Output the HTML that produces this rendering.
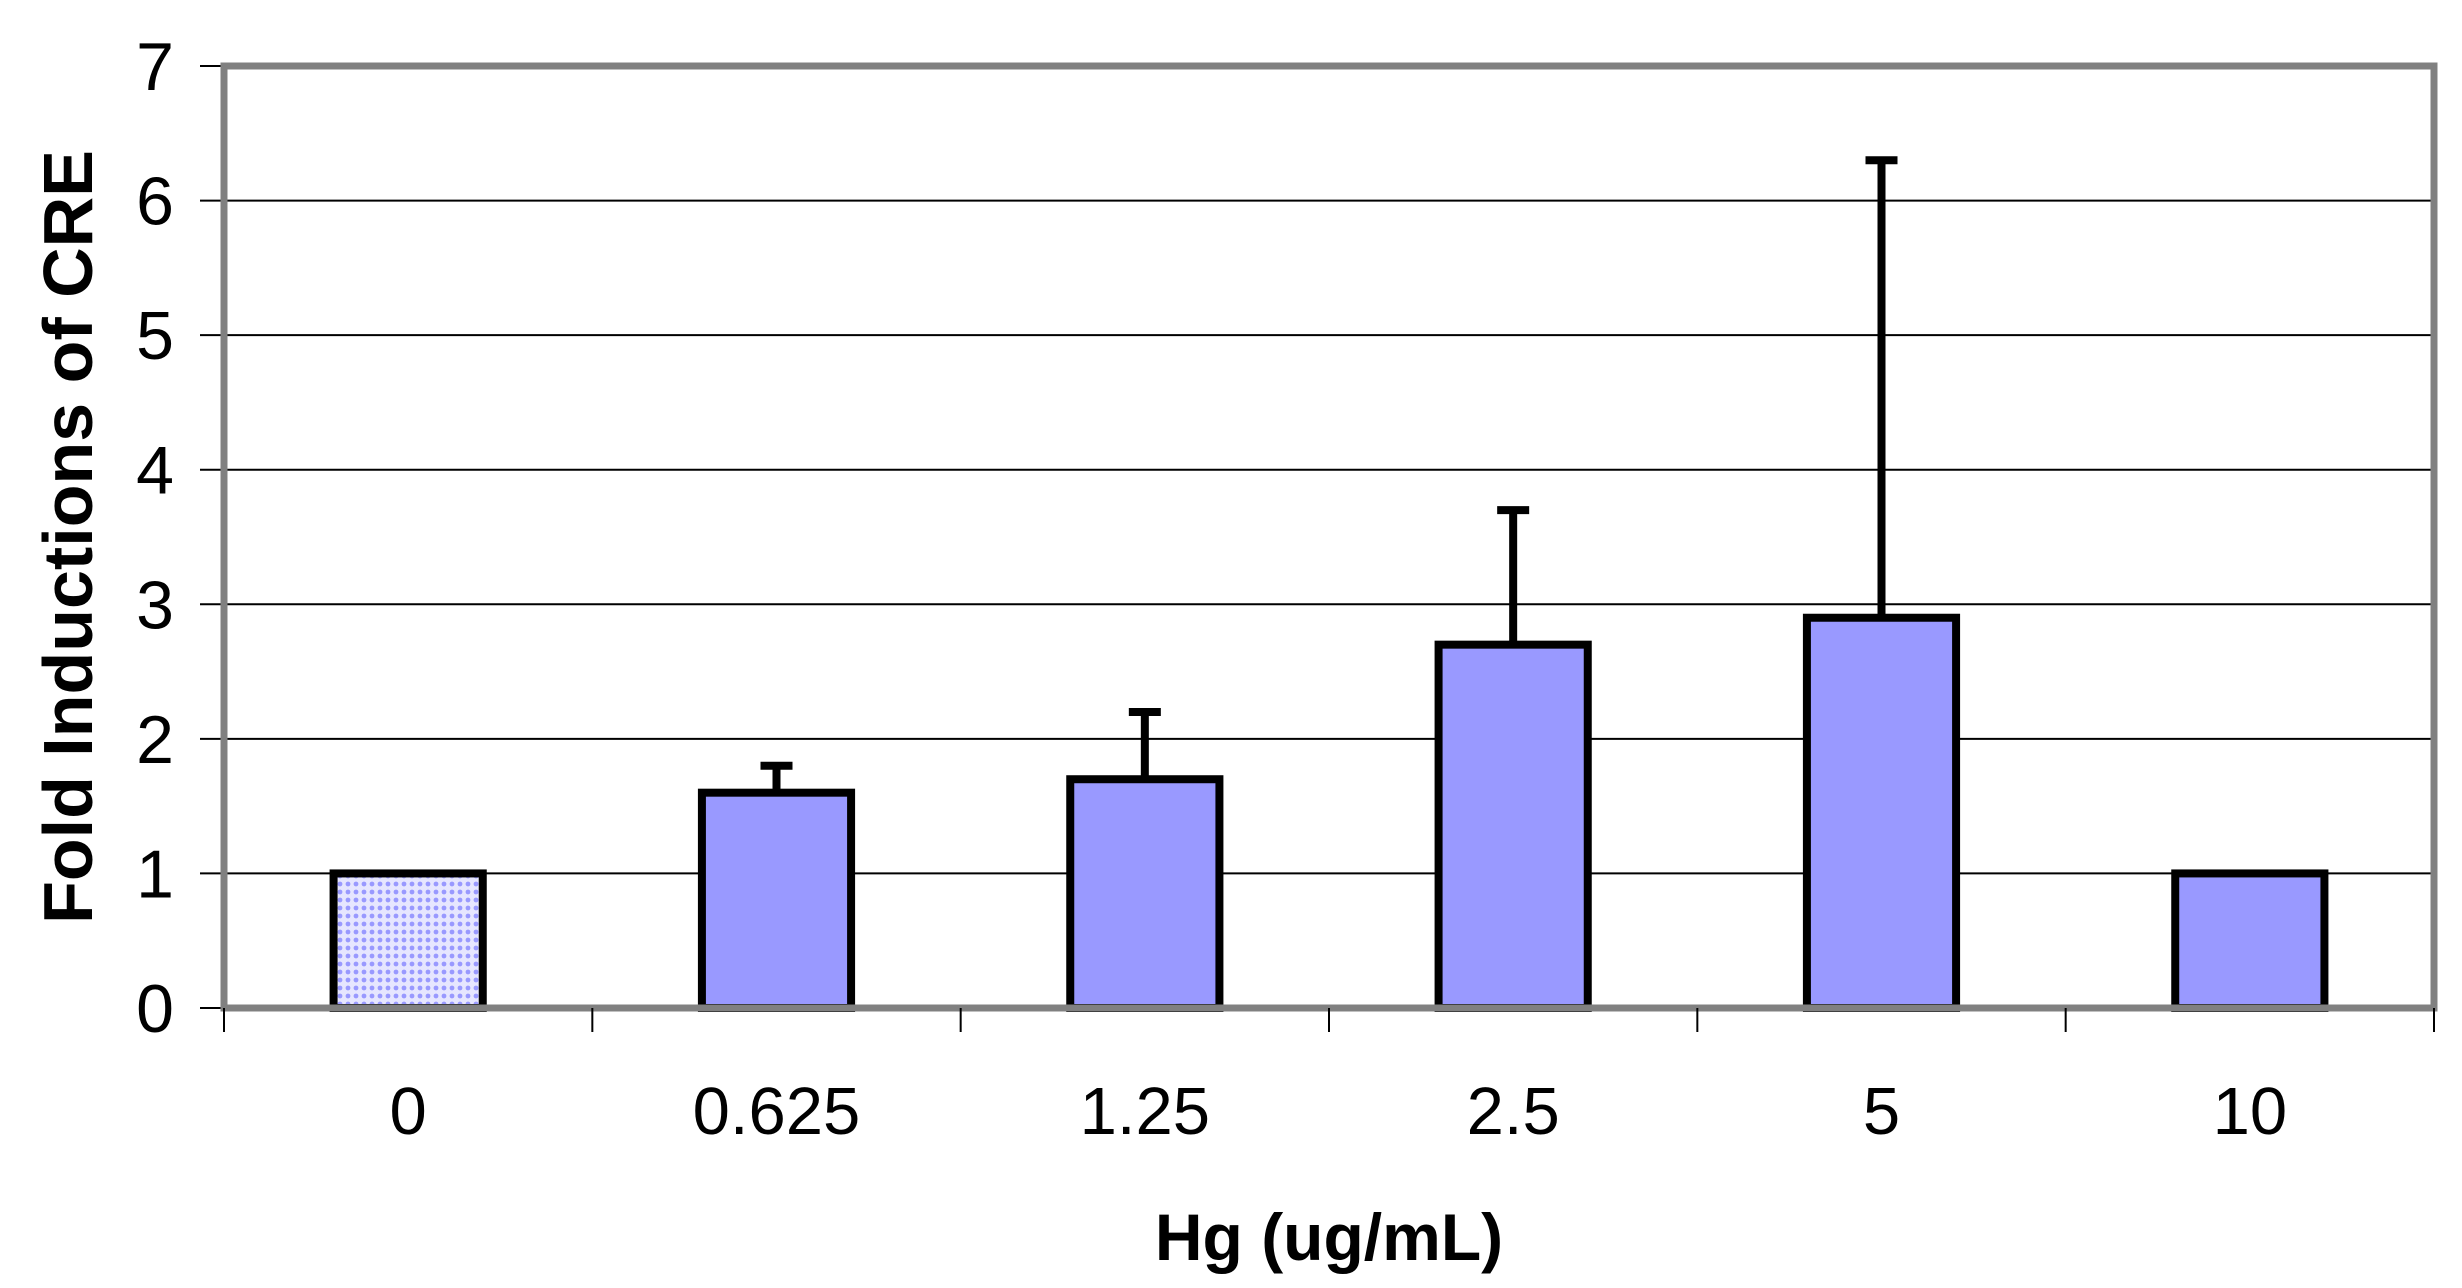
<!DOCTYPE html>
<html><head><meta charset="utf-8"><style>
html,body{margin:0;padding:0;background:#fff;}
svg{display:block;font-family:"Liberation Sans",Arial,sans-serif;}
</style></head><body>
<svg id="chart" width="2462" height="1288" viewBox="0 0 2462 1288">
<defs>
<pattern id="dots" width="8" height="8" patternUnits="userSpaceOnUse">
<rect width="8" height="8" fill="#e6e6ff"/>
<circle cx="4" cy="4" r="2.4" fill="#9999ff"/>
</pattern>
</defs>
<g id="grid"></g>
<g id="bars"></g>
<g id="axes"></g>
<text transform="translate(92,537) rotate(-90)" text-anchor="middle" font-size="70" font-weight="bold">Fold Inductions of CRE</text>
<text x="1329" y="1260" text-anchor="middle" font-size="66" font-weight="bold">Hg (ug/mL)</text>
</svg>
<script>
const categories = ["0","0.625","1.25","2.5","5","10"];
const values = [1, 1.6, 1.7, 2.7, 2.9, 1];
const errorTops = [null, 1.8, 2.2, 3.7, 6.3, null];
const yTicks = [0,1,2,3,4,5,6,7];

const L=224, R=2434, T=66, B=1008, yMax=7;
const NS="http://www.w3.org/2000/svg";
const catW=(R-L)/categories.length;
const barW=catW*0.405;
function y(v){return B-(v/yMax)*(B-T);}
function xc(i){return L+catW*(i+0.5);}
function mk(tag,attrs,parent){const e=document.createElementNS(NS,tag);for(const k in attrs)e.setAttribute(k,attrs[k]);parent.appendChild(e);return e;}
const grid=document.getElementById('grid'),bars=document.getElementById('bars'),axes=document.getElementById('axes');

yTicks.forEach(t=>{
  if(t>0&&t<yMax){
    const g=mk('line',{x1:L,x2:R,y1:y(t),y2:y(t),stroke:'#000','stroke-width':2},grid);
    
    
  }
  const tk=mk('line',{x1:L-24,x2:L,y1:y(t),y2:y(t),stroke:'#000','stroke-width':2},axes);
  
  
  const lb=mk('text',{x:174,y:y(t)+24,'text-anchor':'end','font-size':68},axes);
  lb.textContent=t;
  
  
});

const bd=mk('rect',{x:L,y:T,width:R-L,height:B-T,fill:'none',stroke:'#808080','stroke-width':7},axes);



for(let i=0;i<=categories.length;i++){
  const tk=mk('line',{x1:L+catW*i,x2:L+catW*i,y1:B,y2:B+24,stroke:'#000','stroke-width':2},axes);
  
  
}

categories.forEach((c,i)=>{
  const cx=xc(i);
  if(errorTops[i]!=null){
    const el=mk('line',{x1:cx,x2:cx,y1:y(values[i]),y2:y(errorTops[i]),stroke:'#000','stroke-width':8},bars);
    
    
    const cap=mk('line',{x1:cx-16,x2:cx+16,y1:y(errorTops[i]),y2:y(errorTops[i]),stroke:'#000','stroke-width':8},bars);
    
    
  }
  const r=mk('rect',{x:cx-barW/2,y:y(values[i]),width:barW,height:B-y(values[i]),fill:i===0?'url(#dots)':'#9999ff',stroke:'#000','stroke-width':8},bars);
  
  
  const lb=mk('text',{x:cx,y:1134,'text-anchor':'middle','font-size':67},axes);
  lb.textContent=c;
  
  
});
</script>
</body></html>
